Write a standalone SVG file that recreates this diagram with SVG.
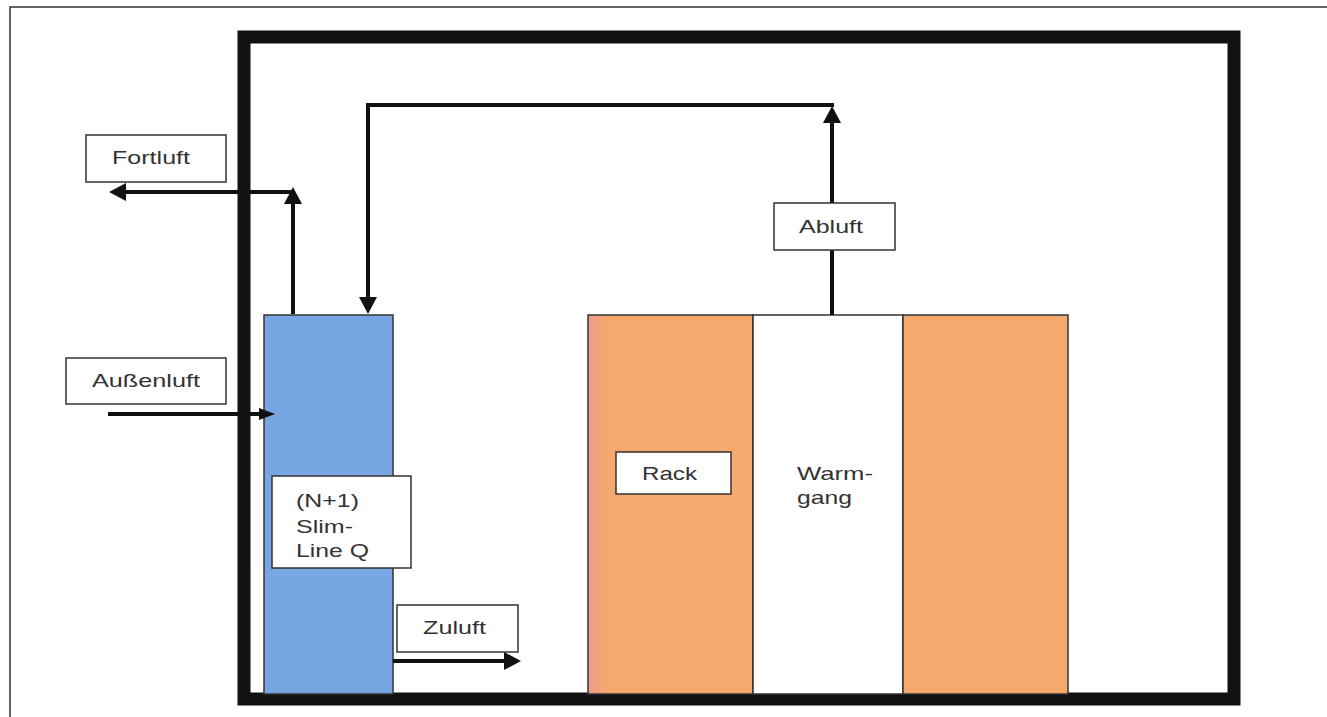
<svg xmlns="http://www.w3.org/2000/svg" width="1327" height="717" viewBox="0 0 1327 717">
<style>
.lbl{fill:#ffffff;stroke:#333;stroke-width:1.5}
.txt{font-family:"Liberation Sans",Arial,sans-serif;font-size:19px;fill:#333}
.conn{fill:none;stroke:#111;stroke-width:4}
.unit{stroke:#333;stroke-width:1.5}
</style>
<defs>
<marker id="ah" markerUnits="userSpaceOnUse" markerWidth="20" markerHeight="20" refX="8" refY="9" orient="auto">
<path d="M0,0 L17,9 L0,18 z" fill="#111"/>
</marker>
<marker id="ahs" markerUnits="userSpaceOnUse" markerWidth="18" markerHeight="14" refX="8" refY="6" orient="auto">
<path d="M0,0 L16,6 L0,12 z" fill="#111"/>
</marker>
<linearGradient id="rackL" x1="0" y1="0" x2="1" y2="0">
<stop offset="0" stop-color="#EE9C8E"/>
<stop offset="0.13" stop-color="#F5A96C"/>
<stop offset="1" stop-color="#F5A96C"/>
</linearGradient>
</defs>
<rect x="0" y="0" width="1327" height="717" fill="#ffffff"/>
<rect id="frame" x="10" y="7" width="1340" height="730" fill="none" stroke="#333" stroke-width="1.5"/>
<g id="room">
<rect x="244" y="37" width="990" height="662" fill="none" stroke="#111" stroke-width="13"/>
</g>
<g id="slimline">
<rect class="unit" x="264" y="315" width="129" height="379" fill="#77A6E3"/>
</g>
<g id="rack-left">
<rect class="unit" x="588" y="315" width="165" height="379" fill="url(#rackL)"/>
</g>
<g id="warmgang">
<rect class="unit" x="753" y="315" width="150" height="379" fill="#ffffff"/>
<text class="txt" x="797" y="480" textLength="76" lengthAdjust="spacingAndGlyphs">Warm-</text>
<text class="txt" x="797" y="504" textLength="55" lengthAdjust="spacingAndGlyphs">gang</text>
</g>
<g id="rack-right">
<rect class="unit" x="903" y="315" width="165" height="379" fill="#F5A96C"/>
</g>
<g id="connectors">
<path class="conn" d="M293,314 V196" marker-end="url(#ah)"/>
<path class="conn" d="M293,192 H118" marker-end="url(#ah)"/>
<path class="conn" d="M832,315 V115" marker-end="url(#ah)"/>
<path class="conn" d="M834,105 H368 V305" marker-end="url(#ah)"/>
<path class="conn" d="M108,414 H267" marker-end="url(#ahs)"/>
<path class="conn" d="M393,661 H512" marker-end="url(#ah)"/>
</g>
<g id="label-fortluft">
<rect class="lbl" x="86" y="135" width="140" height="47"/>
<text class="txt" x="112" y="164" textLength="78" lengthAdjust="spacingAndGlyphs">Fortluft</text>
</g>
<g id="label-aussenluft">
<rect class="lbl" x="66" y="358" width="160" height="46"/>
<text class="txt" x="92" y="387" textLength="108" lengthAdjust="spacingAndGlyphs">Außenluft</text>
</g>
<g id="label-slimline">
<rect class="lbl" x="272" y="476" width="139" height="92"/>
<text class="txt" x="296" y="507" textLength="63" lengthAdjust="spacingAndGlyphs">(N+1)</text>
<text class="txt" x="296" y="533" textLength="57" lengthAdjust="spacingAndGlyphs">Slim-</text>
<text class="txt" x="296" y="557" textLength="73" lengthAdjust="spacingAndGlyphs">Line Q</text>
</g>
<g id="label-zuluft">
<rect class="lbl" x="397" y="605" width="121" height="47"/>
<text class="txt" x="423" y="634" textLength="63" lengthAdjust="spacingAndGlyphs">Zuluft</text>
</g>
<g id="label-abluft">
<rect class="lbl" x="774" y="203" width="121" height="47"/>
<text class="txt" x="799" y="233" textLength="64" lengthAdjust="spacingAndGlyphs">Abluft</text>
</g>
<g id="label-rack">
<rect class="lbl" x="616" y="452" width="115" height="42"/>
<text class="txt" x="642" y="480" textLength="55" lengthAdjust="spacingAndGlyphs">Rack</text>
</g>
</svg>
